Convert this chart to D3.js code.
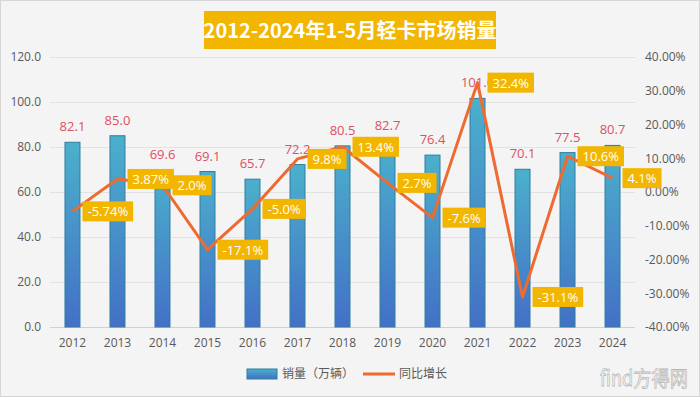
<!DOCTYPE html>
<html>
<head>
<meta charset="utf-8">
<script src="https://cdn.jsdelivr.net/npm/d3@7"></script>
<style>
  body { margin: 0; background: #fff; }
  svg { display: block; }
</style>
</head>
<body>
<div id="chart"></div>
<script>
// data
var years = ["2012","2013","2014","2015","2016","2017","2018","2019","2020","2021","2022","2023","2024"];
var sales = [82.1, 85.0, 69.6, 69.1, 65.7, 72.2, 80.5, 82.7, 76.4, 101.6, 70.1, 77.5, 80.7];
var growth = [-5.74, 3.87, 2.0, -17.1, -5.0, 9.8, 13.4, 2.7, -7.6, 32.4, -31.1, 10.6, 4.1];
var growthLabels = ["-5.74%","3.87%","2.0%","-17.1%","-5.0%","9.8%","13.4%","2.7%","-7.6%","32.4%","-31.1%","10.6%","4.1%"];
var leftTicks = [0, 20, 40, 60, 80, 100, 120];
var rightTicks = [-40, -30, -20, -10, 0, 10, 20, 30, 40];

var W = 700, H = 397;
var margin = {top: 57, right: 65, bottom: 70, left: 50},
    width = W - margin.left - margin.right,
    height = H - margin.top - margin.bottom;

var font = "'Open Sans', 'Noto Sans CJK SC', sans-serif";

var root = d3.select("#chart").append("svg")
    .attr("width", W)
    .attr("height", H);

// background + frame
root.append("rect")
    .attr("x", 0.5).attr("y", 0.5)
    .attr("width", W - 1).attr("height", H - 1)
    .style("fill", "#f4f4f4")
    .style("stroke", "#d6d6d6");

// title
var title = root.append("g");
title.append("rect")
    .attr("x", 204).attr("y", 11)
    .attr("width", 292).attr("height", 38)
    .style("fill", "#f2b600");
title.append("text")
    .attr("x", 350).attr("y", 38)
    .attr("text-anchor", "middle")
    .style("font-family", "'Noto Sans CJK SC', sans-serif")
    .style("font-weight", "bold")
    .style("font-size", "20px")
    .style("fill", "#fff")
    .text("2012-2024年1-5月轻卡市场销量");

var svg = root.append("g")
    .attr("transform", "translate(" + margin.left + "," + margin.top + ")");

// scales
var x = d3.scaleBand()
    .domain(years)
    .range([0, width])
    .paddingInner(0.667)
    .paddingOuter(0.333);

var y = d3.scaleLinear().domain([0, 120]).range([height, 0]);
var y2 = d3.scaleLinear().domain([-40, 40]).range([height, 0]);

// gridlines
svg.append("g")
  .selectAll("line")
  .data(leftTicks)
  .enter().append("line")
    .attr("x1", 0).attr("x2", width)
    .attr("y1", function(d) { return y(d) + 0.5; })
    .attr("y2", function(d) { return y(d) + 0.5; })
    .style("stroke", function(d) { return d === 0 ? "#d0d0d0" : "#e2e2e2"; })
    .style("stroke-width", 1);

// left axis
var yAxis = svg.append("g")
    .style("font-family", font)
    .style("font-size", "12px")
    .call(d3.axisLeft(y).tickValues(leftTicks).tickFormat(d3.format(".1f")).tickSize(0).tickPadding(9));
yAxis.select(".domain").remove();
yAxis.selectAll("text").style("fill", "#595959");

// right axis
var y2Axis = svg.append("g")
    .attr("transform", "translate(" + width + ",0)")
    .style("font-family", font)
    .style("font-size", "12px")
    .call(d3.axisRight(y2).tickValues(rightTicks).tickFormat(function(d) { return d.toFixed(2) + "%"; }).tickSize(0).tickPadding(10));
y2Axis.select(".domain").remove();
y2Axis.selectAll("text").style("fill", "#595959");

// x axis
var xAxis = svg.append("g")
    .attr("transform", "translate(0," + height + ")")
    .style("font-family", font)
    .style("font-size", "12px")
    .call(d3.axisBottom(x).tickSize(0).tickPadding(11));
xAxis.select(".domain").remove();
xAxis.selectAll("text").style("fill", "#595959");

// bar gradient
var defs = root.append("defs");
var grad = defs.append("linearGradient")
    .attr("id", "barGrad")
    .attr("x1", 0).attr("y1", 0).attr("x2", 0).attr("y2", 1);
grad.append("stop").attr("offset", "0%").attr("stop-color", "#4bb0cc");
grad.append("stop").attr("offset", "100%").attr("stop-color", "#4370c6");

// bars
svg.selectAll(".bar")
  .data(sales)
  .enter().append("rect")
    .attr("class", "bar")
    .attr("x", function(d, i) { return x(years[i]); })
    .attr("y", function(d) { return y(d); })
    .attr("width", x.bandwidth())
    .attr("height", function(d) { return height - y(d); })
    .style("fill", "url(#barGrad)")
    .style("stroke", "#2f7ea0")
    .style("stroke-width", 1);

// bar value labels
svg.selectAll(".barLabel")
  .data(sales)
  .enter().append("text")
    .attr("class", "barLabel")
    .attr("x", function(d, i) { return x(years[i]) + x.bandwidth() / 2; })
    .attr("y", function(d) { return y(d) - 11; })
    .attr("text-anchor", "middle")
    .style("font-family", font)
    .style("font-size", "13px")
    .style("fill", "#dd4f63")
    .text(function(d) { return d.toFixed(1); });

// growth line
var line = d3.line()
    .x(function(d, i) { return x(years[i]) + x.bandwidth() / 2; })
    .y(function(d) { return y2(d); });

svg.append("path")
    .datum(growth)
    .attr("d", line)
    .style("fill", "none")
    .style("stroke", "#ee6a30")
    .style("stroke-width", 3)
    .style("stroke-linejoin", "round");

// growth labels in yellow boxes
var gl = svg.selectAll(".gLabel")
  .data(growth)
  .enter().append("g")
    .attr("class", "gLabel")
    .attr("transform", function(d, i) {
      return "translate(" + (x(years[i]) + x.bandwidth() / 2 + 10) + "," + y2(d) + ")";
    });

gl.append("rect")
    .style("fill", "#f2b600");
gl.append("text")
    .attr("x", 5)
    .attr("y", 5)
    .style("font-family", font)
    .style("font-size", "13px")
    .style("fill", "#fff")
    .text(function(d, i) { return growthLabels[i]; });

gl.each(function() {
  var g = d3.select(this);
  var w = g.select("text").node().getComputedTextLength();
  g.select("rect")
    .attr("x", 0).attr("y", -10)
    .attr("width", w + 10).attr("height", 20);
});

// legend
var leg = root.append("g").style("font-family", "'Noto Sans CJK SC', sans-serif").style("font-size", "12px");
leg.append("rect")
    .attr("x", 247).attr("y", 369)
    .attr("width", 30).attr("height", 10)
    .style("fill", "url(#barGrad)")
    .style("stroke", "#2f7ea0");
leg.append("text")
    .attr("x", 282).attr("y", 378)
    .style("fill", "#595959")
    .text("销量（万辆）");
leg.append("line")
    .attr("x1", 363).attr("x2", 395)
    .attr("y1", 374).attr("y2", 374)
    .style("stroke", "#ee6a30")
    .style("stroke-width", 3);
leg.append("text")
    .attr("x", 399).attr("y", 378)
    .style("fill", "#595959")
    .text("同比增长");

// watermark
root.append("text")
    .attr("x", 600).attr("y", 386)
    .attr("textLength", 88)
    .attr("lengthAdjust", "spacingAndGlyphs")
    .style("font-family", "'Noto Sans CJK SC', sans-serif")
    .style("font-size", "21px")
    .style("fill", "#ffffff")
    .style("stroke", "#b8b8b8")
    .style("stroke-width", 0.8)
    .text("find方得网");
</script>
</body>
</html>
